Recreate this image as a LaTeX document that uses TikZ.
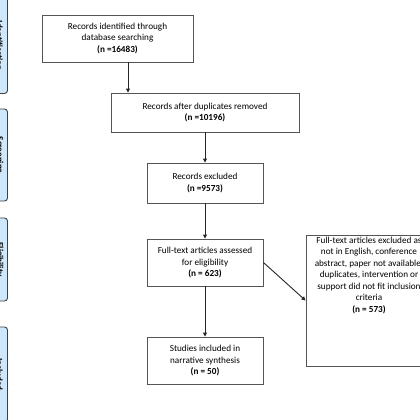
\documentclass[tikz,border=0pt]{standalone}
\usepackage{fontspec}
\setmainfont{Carlito}
\usetikzlibrary{arrows.meta}
\definecolor{sidefill}{HTML}{CFE7FB}
\definecolor{boxline}{HTML}{555555}
\tikzset{
  box/.style={draw=boxline, line width=0.9pt, fill=white, align=center, inner sep=2pt,
    font=\fontsize{9.2}{11.5}\selectfont},
  side/.style={draw=black!75, line width=0.9pt, fill=sidefill, rounded corners=3pt,
    rotate=-90, minimum height=16pt, inner sep=0pt,
    font=\fontsize{9}{10}\selectfont\bfseries},
  arr/.style={draw=black!85, line width=0.9pt, -{Triangle[length=4pt,width=4pt]}}
}
\begin{document}
\begin{tikzpicture}[x=1pt,y=-1pt]
\path[use as bounding box, clip] (0,0) rectangle (420,420);
\fill[white] (0,0) rectangle (420,420);
% side labels
\node[side, minimum width=96pt] (s1) at (-0.5,45.5) {Identification};
\node[side, minimum width=92pt] (s2) at (-0.5,155) {Screening};
\node[side, minimum width=83pt] (s3) at (-0.5,259.5) {Eligibility};
\node[side, minimum width=95pt] (s4) at (-0.5,374.5) {Included};
% boxes
\node[box, minimum width=151pt, minimum height=47pt] (b1) at (117.5,38.5)
  {Records identified through\\database searching\\\textbf{(n =16483)}};
\node[box, minimum width=188pt, minimum height=39pt] (b2) at (205,112.5)
  {Records after duplicates removed\\\textbf{(n =10196)}};
\node[box, minimum width=116pt, minimum height=40pt] (b3) at (205,183)
  {Records excluded\\\textbf{(n =9573)}};
\node[box, minimum width=116pt, minimum height=47pt] (b4) at (205,262.5)
  {Full-text articles assessed\\for eligibility\\\textbf{(n = 623)}};
\node[box, minimum width=116pt, minimum height=47pt] (b5) at (205,360.5)
  {Studies included in\\narrative synthesis\\\textbf{(n = 50)}};
\node[box, inner sep=0pt] (b6) at (369,300.5)
  {\parbox[c][131pt][t]{126pt}{\centering\vspace{2pt}%
  Full-text articles excluded as\\not in English, conference\\abstract, paper not available,\\duplicates, intervention or\\support did not fit inclusion\\criteria\\\textbf{(n = 573)}}};
% arrows
\draw[arr] ([xshift=10.5pt]b1.south) -- ([xshift=10.5pt]b1.south |- b2.north);
\draw[arr] (b2.south) -- (b3.north);
\draw[arr] (b3.south) -- (b4.north);
\draw[arr] (b4.south) -- (b5.north);
\draw[arr] (b4.east) -- (b6.west);
\end{tikzpicture}
\end{document}
